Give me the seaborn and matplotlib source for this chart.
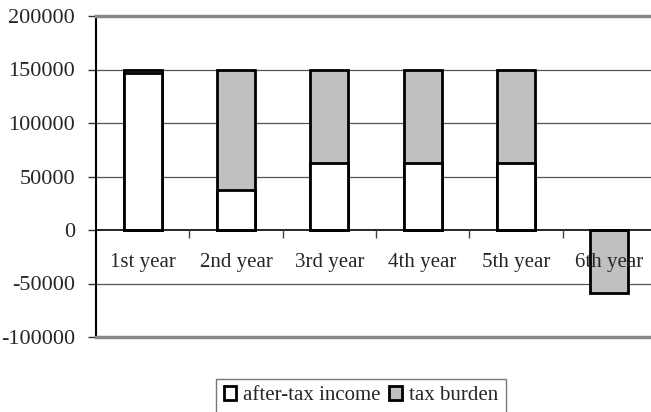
import matplotlib
matplotlib.use("Agg")
import matplotlib.pyplot as plt
import matplotlib.patches as mpatches
import seaborn as sns
import pandas as pd

# -----------------------------------------------------
# Data
# -----------------------------------------------------
years = ["1st year", "2nd year", "3rd year", "4th year", "5th year", "6th year"]
after_tax_income = [147000, 37000, 63000, 63000, 63000, 0]
tax_burden = [3000, 113000, 87000, 87000, 87000, -59000]
y_ticks = [-100000, -50000, 0, 50000, 100000, 150000, 200000]

df = pd.DataFrame({"year": years, "after": after_tax_income, "tax": tax_burden})
df["total"] = df["after"] + df["tax"]

sns.set_theme(style="white")
plt.rcParams["font.family"] = ["Liberation Serif", "DejaVu Serif"]

fig = plt.figure(figsize=(6.51, 4.12), dpi=100)
ax = fig.add_axes([96 / 651, 1 - 337 / 412, 560 / 651, 321 / 412])

# gridlines first, bars on top
for v in y_ticks[1:-1]:
    if v != 0:
        ax.axhline(v, color="#555555", lw=0.9, zorder=0)

# stacked bars: total in gray, after-tax income in white over it
sns.barplot(data=df, x="year", y="total", color="#c0c0c0", width=0.41,
            edgecolor="black", linewidth=2, saturation=1, ax=ax, zorder=2)
sns.barplot(data=df, x="year", y="after", color="white", width=0.41,
            edgecolor="black", linewidth=2, saturation=1, ax=ax, zorder=3)

ax.axhline(0, color="black", lw=1.2, zorder=4)
# category boundary ticks on the zero line
bounds = [i + 0.5 for i in range(len(years) - 1)]
ax.plot(bounds, [0] * len(bounds), linestyle="none", marker=3,
        markersize=6, color="#444444", markeredgewidth=1, zorder=4)

ax.set_xlim(-0.5, 5.5)
ax.set_ylim(-100000, 200000)
ax.set_yticks(y_ticks)
ax.set_yticklabels([str(v) for v in y_ticks], fontsize=16)
ax.tick_params(axis="y", left=True, length=6, width=1, color="#333333", pad=9)
ax.set_xticks([])
ax.set_xlabel("")
ax.set_ylabel("")

for i, lab in enumerate(years):
    ax.annotate(lab, (i, 0), xytext=(0, -26.5), textcoords="offset points",
                ha="center", va="baseline", fontsize=15, zorder=5)

ax.spines["left"].set_color("black")
ax.spines["left"].set_linewidth(1.5)
ax.spines["right"].set_visible(False)
for s in ["top", "bottom"]:
    ax.spines[s].set_color("#888888")
    ax.spines[s].set_linewidth(2.5)

handles = [
    mpatches.Patch(facecolor="white", edgecolor="black", linewidth=2, label="after-tax income"),
    mpatches.Patch(facecolor="#c0c0c0", edgecolor="black", linewidth=2, label="tax burden"),
]
leg = fig.legend(handles=handles, loc="upper center", bbox_to_anchor=(361 / 651, 1 - 379 / 412),
                 ncol=2, fontsize=15, frameon=True, fancybox=False, handlelength=0.6,
                 handleheight=0.6, handletextpad=0.35, columnspacing=0.4,
                 borderpad=0.35, borderaxespad=0)
leg.get_frame().set_edgecolor("#555555")
leg.get_frame().set_linewidth(1)

fig.savefig("out.png", dpi=100)
